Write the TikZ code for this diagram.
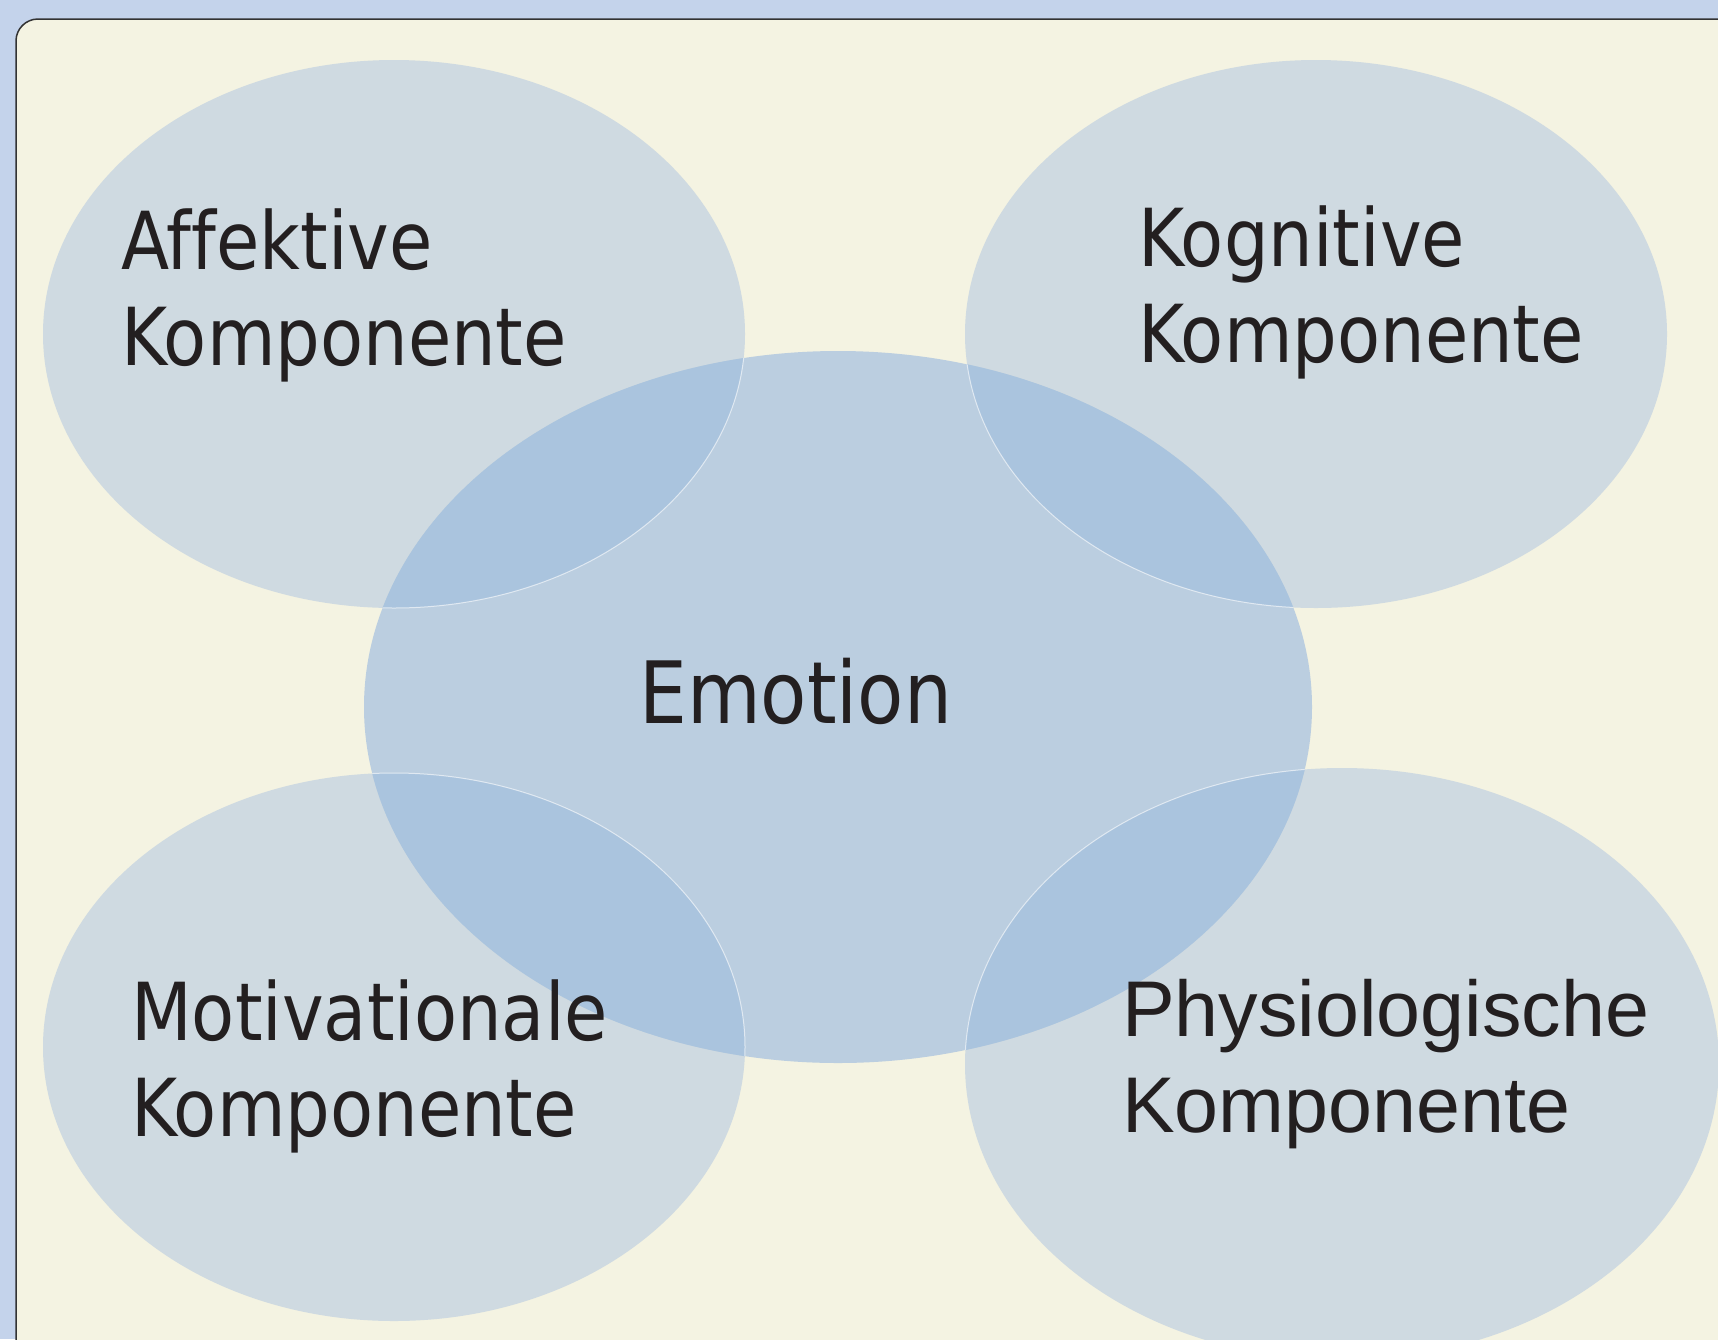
\documentclass[tikz,border=0pt]{standalone}
\usepackage{fontspec}
\newfontfamily\tahfont[FakeStretch=0.88,Ligatures=NoCommon]{DejaVu Sans}
\newfontfamily\arifont[Ligatures=NoCommon]{Liberation Sans}
\definecolor{outerbg}{HTML}{C4D3EB}
\definecolor{panel}{HTML}{F4F3E2}
\definecolor{panelborder}{HTML}{333333}
\definecolor{outerell}{HTML}{CFDAE1}
\definecolor{centerell}{HTML}{BBCEE0}
\definecolor{overlap}{HTML}{AAC4DE}
\definecolor{txt}{HTML}{231F20}
\begin{document}
\begin{tikzpicture}[x=1pt,y=-1pt,
  lbl/.style={anchor=base west, inner sep=0pt, text=txt},
  tah/.style={font=\tahfont\fontsize{80pt}{96pt}\selectfont},
  ari/.style={font=\arifont\fontsize{79pt}{96pt}\selectfont}]
\useasboundingbox (0,0) rectangle (1718,1339);
\begin{scope}
\clip (0,0) rectangle (1718,1339);
\fill[outerbg] (0,0) rectangle (1718,1339);
\filldraw[fill=panel, draw=panelborder, line width=1.5pt, rounded corners=22pt] (16,19) rectangle (1780,1400);
% outer ellipses
\foreach \cx/\cy/\rx/\ry in {394/334/351/274, 1316/334/351/274, 394/1047/351/274, 1342/1064/377/296}
  {\fill[outerell] (\cx,\cy) ellipse [x radius=\rx, y radius=\ry];}
% central ellipse
\fill[centerell] (838,707) ellipse [x radius=474, y radius=356];
% overlaps
\begin{scope}
\clip (838,707) ellipse [x radius=474, y radius=356];
\foreach \cx/\cy/\rx/\ry in {394/334/351/274, 1316/334/351/274, 394/1047/351/274, 1342/1064/377/296}
  {\fill[overlap] (\cx,\cy) ellipse [x radius=\rx, y radius=\ry];
   \draw[white, opacity=0.6, line width=1pt] (\cx,\cy) ellipse [x radius=\rx, y radius=\ry];}
\end{scope}
% labels
\node[lbl, tah] (aff) at (121,269) {\vtop{\hbox{Affektive}\hbox{Komponente}}};
\node[lbl, tah] (kog) at (1138,266) {\vtop{\hbox{Kognitive}\hbox{Komponente}}};
\node[lbl, tah] (mot) at (131,1040) {\vtop{\hbox{Motivationale}\hbox{Komponente}}};
\node[lbl, ari] (phy) at (1122,1036) {\vtop{\hbox{Physiologische}\hbox{Komponente}}};
\node[lbl, font=\tahfont\fontsize{86pt}{100pt}\selectfont] (emo) at (639,723) {Emotion};
\end{scope}
\end{tikzpicture}
\end{document}
